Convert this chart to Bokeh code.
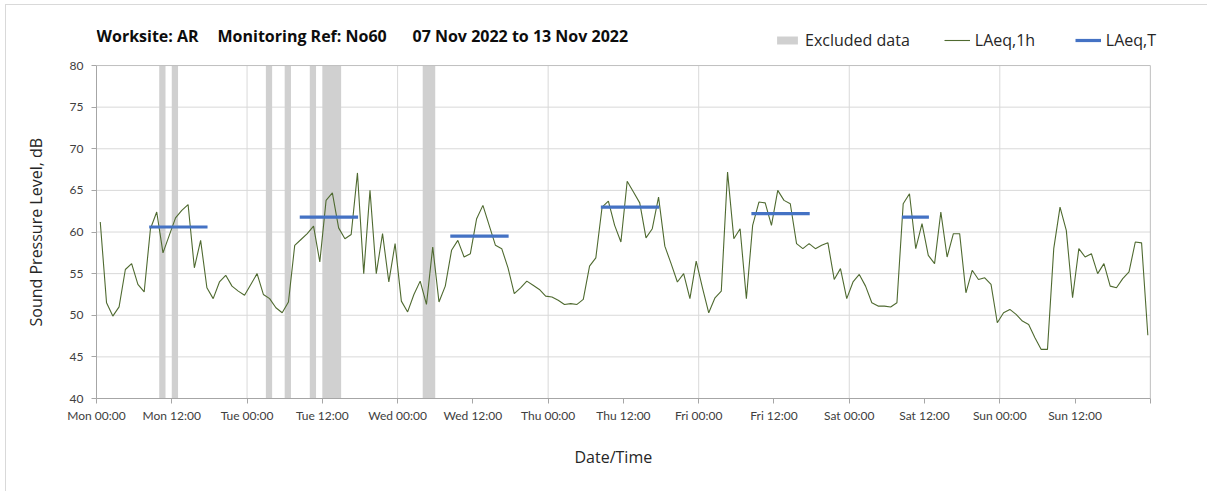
import numpy as np
from bokeh.plotting import figure
from bokeh.models import Range1d, FixedTicker, Legend, LegendItem, Label, Title
from bokeh.embed import file_html
from bokeh.resources import INLINE

# ---------------- data ----------------
title_parts = ["Worksite: AR", "Monitoring Ref: No60", "07 Nov 2022 to 13 Nov 2022"]
x_label = "Date/Time"
y_label = "Sound Pressure Level, dB"

laeq_1h = [
    61.2, 51.5, 49.9, 51.0, 55.5, 56.2, 53.7, 52.8, 60.4, 62.4, 57.5, 59.6,
    61.7, 62.6, 63.3, 55.7, 59.0, 53.3, 52.0, 54.0, 54.8, 53.5, 52.9, 52.4,
    53.7, 55.0, 52.5, 52.0, 50.9, 50.3, 51.6, 58.4, 59.1, 59.8, 60.7, 56.4,
    63.8, 64.7, 60.5, 59.2, 59.7, 67.1, 55.0, 65.0, 55.0, 59.8, 54.0, 58.6,
    51.7, 50.4, 52.5, 54.1, 51.3, 58.2, 51.6, 53.5, 57.8, 59.0, 57.0, 57.4,
    61.6, 63.2, 60.8, 58.4, 58.0, 55.7, 52.6, 53.3, 54.1, 53.6, 53.1, 52.3,
    52.2, 51.8, 51.3, 51.4, 51.3, 51.9, 55.9, 56.9, 63.0, 63.7, 60.8, 58.8,
    66.1, 64.8, 63.5, 59.3, 60.4, 64.2, 58.3, 56.2, 54.0, 55.0, 52.0, 56.5,
    53.3, 50.3, 52.1, 52.9, 67.2, 59.2, 60.4, 52.0, 60.8, 63.6, 63.5, 60.8,
    65.0, 63.8, 63.4, 58.6, 58.0, 58.6, 58.0, 58.4, 58.7, 54.3, 55.6, 52.0,
    54.0, 54.9, 53.5, 51.5, 51.1, 51.1, 51.0, 51.5, 63.4, 64.6, 58.0, 61.0,
    57.2, 56.2, 62.4, 57.0, 59.8, 59.8, 52.7, 55.4, 54.3, 54.5, 53.7, 49.1,
    50.3, 50.7, 50.1, 49.3, 48.9, 47.3, 45.9, 45.9, 58.0, 63.0, 60.2, 52.1,
    58.0, 57.0, 57.4, 55.0, 56.2, 53.5, 53.3, 54.4, 55.2, 58.8, 58.7, 47.6,
]
hours = np.arange(len(laeq_1h)) + 0.6

# LAeq,T periods (hours from Mon 00:00)
period_start = [8, 32, 56, 80, 104, 128]
period_end = [18, 42, 66, 90, 114, 133]
laeq_t = [60.6, 61.8, 59.5, 63.0, 62.2, 61.8]

# Excluded data periods (hours from Mon 00:00)
excl_start = [10, 12, 27, 30, 34, 36, 52]
excl_end = [11, 13, 28, 31, 35, 39, 54]

tick_hours = list(range(0, 169, 12))
tick_labels = ["Mon 00:00", "Mon 12:00", "Tue 00:00", "Tue 12:00", "Wed 00:00",
               "Wed 12:00", "Thu 00:00", "Thu 12:00", "Fri 00:00", "Fri 12:00",
               "Sat 00:00", "Sat 12:00", "Sun 00:00", "Sun 12:00", ""]
y_ticks = list(range(40, 81, 5))
day_lines = list(range(24, 168, 24))

X_MIN, X_MAX = 0, 168
Y_MIN, Y_MAX = 40, 80

TICK_FONT = "Lato"
TEXT_FONT = "Open Sans"
GREY = "#d0d0d0"
GREEN = "#4f6a30"
BLUE = "#4472c4"
GRID = "#d9d9d9"
FRAME = "#bfbfbf"

# frame extended above / right of the data area so the header can sit inside it
p = figure(width=1202, height=487, output_backend="svg", toolbar_location=None,
           x_range=Range1d(X_MIN, 174.4), y_range=Range1d(Y_MIN, 85.41),
           min_border_left=90, min_border_right=18, min_border_top=15, min_border_bottom=94,
           styles={"margin-left": "5px", "margin-top": "4px",
                   "border-left": "1px solid #d9d9d9", "border-top": "1px solid #d9d9d9"})
p.background_fill_color = "white"
p.border_fill_color = "white"
p.outline_line_color = None
p.grid.visible = False

# gridlines (bounded to the data area)
inner_y = [v for v in y_ticks if Y_MIN < v < Y_MAX]
p.segment(x0=X_MIN, x1=X_MAX, y0=inner_y, y1=inner_y, line_color=GRID, line_width=1)
p.segment(x0=day_lines, x1=day_lines, y0=Y_MIN, y1=Y_MAX, line_color=GRID, line_width=1)

excl_r = p.quad(left=excl_start, right=excl_end, bottom=Y_MIN, top=Y_MAX,
                fill_color=GREY, line_color=None)

# top and right frame lines
p.segment(x0=[X_MIN, X_MAX], x1=[X_MAX, X_MAX], y0=[Y_MAX, Y_MIN], y1=[Y_MAX, Y_MAX],
          line_color=FRAME, line_width=1)

line_r = p.line(hours, laeq_1h, line_color=GREEN, line_width=1.1)
seg_r = p.segment(x0=np.array(period_start) + 0.4, x1=np.array(period_end) - 0.3,
                  y0=laeq_t, y1=laeq_t, line_color=BLUE, line_width=3.2)

# axes
p.xaxis.ticker = FixedTicker(ticks=tick_hours)
p.xaxis.major_label_overrides = {h: l for h, l in zip(tick_hours, tick_labels)}
p.yaxis.ticker = FixedTicker(ticks=y_ticks)
p.xaxis.bounds = (X_MIN, X_MAX)
p.yaxis.bounds = (Y_MIN, Y_MAX)
for ax in (p.xaxis[0], p.yaxis[0]):
    ax.axis_line_color = "#a6a6a6"
    ax.major_tick_line_color = "#a6a6a6"
    ax.major_tick_out = 5
    ax.major_tick_in = 0
    ax.minor_tick_out = 0
    ax.minor_tick_in = 0
    ax.major_label_text_font = TICK_FONT
    ax.major_label_text_font_size = "12px"
    ax.major_label_text_color = "#404040"
p.xaxis.major_label_standoff = 4
p.yaxis.major_label_standoff = 8

# axis titles as side-panel titles so they can be centred on the data area
p.add_layout(Title(text=x_label, align="left", offset=478, standoff=36,
                   text_font=TEXT_FONT, text_font_size="16px", text_font_style="normal",
                   text_color="#262626"), "below")
p.add_layout(Title(text=y_label, align="left", offset=72, standoff=36, vertical_align="top",
                   text_font=TEXT_FONT, text_font_size="16px", text_font_style="normal",
                   text_color="#262626"), "left")

# chart heading (three parts), positions in screen px from the frame's bottom-left
title_x = [0, 121, 316]
for txt, tx in zip(title_parts, title_x):
    p.add_layout(Label(x=tx, y=363, x_units="screen", y_units="screen", text=txt,
                       text_font=TEXT_FONT, text_font_size="16px", text_font_style="bold",
                       text_color="#0d0d0d", text_baseline="middle"))

legend = Legend(items=[LegendItem(label="Excluded data", renderers=[excl_r]),
                       LegendItem(label="LAeq,1h", renderers=[line_r]),
                       LegendItem(label="LAeq,T", renderers=[seg_r])],
                orientation="horizontal", location=(678, 347),
                glyph_width=26, glyph_height=10, label_standoff=5, spacing=34,
                label_width=66,
                padding=0, margin=0, border_line_color=None, background_fill_alpha=0,
                label_text_font=TEXT_FONT, label_text_font_size="16px",
                label_text_color="#262626", label_height=20)
p.add_layout(legend, "center")

open("out.html", "w").write(file_html(p, INLINE))
